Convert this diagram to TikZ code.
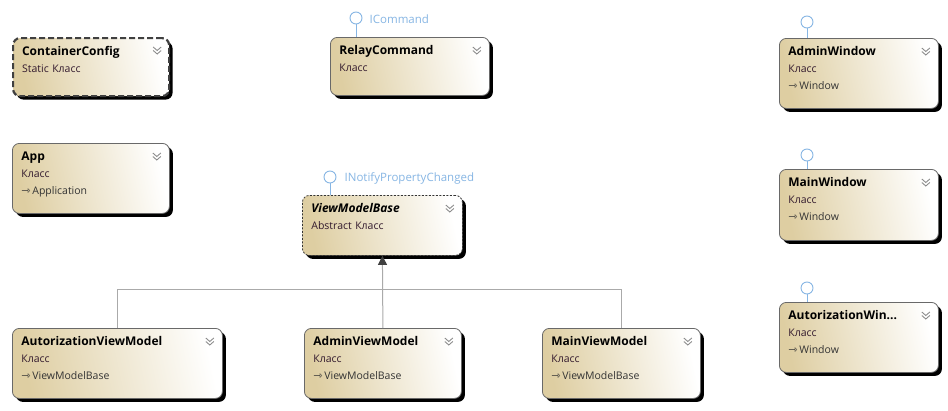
\documentclass[tikz,border=0pt]{standalone}
\usepackage{fontspec}
\setmainfont{Open Sans}
\newfontfamily\arrowfont{DejaVu Sans}
\usetikzlibrary{shadows,arrows.meta}
\definecolor{vstan}{RGB}{222,206,162}
\definecolor{vsedge}{RGB}{105,105,105}
\definecolor{vsblue}{RGB}{135,182,228}
\definecolor{vsline}{RGB}{170,170,170}
\definecolor{vssub}{RGB}{50,25,45}
\definecolor{vschev}{RGB}{140,140,140}
\newcommand\clsname[1]{{\fontsize{12}{17}\selectfont\bfseries #1}}
\newcommand\clskind[1]{{\color{vssub}#1}}
\newcommand\clsbase[1]{{\color{black!80}{\arrowfont\fontsize{11}{17}\selectfont ⇾}\,#1}}

\begin{document}
\begin{tikzpicture}[x=1pt,y=-1pt,
    cls/.style={draw=vsedge,line width=0.8pt,rounded corners=7pt,
        left color=vstan,right color=white,shading angle=102,
        drop shadow={shadow xshift=3.5pt,shadow yshift=-3.5pt,opacity=1,fill=black},
        anchor=north west,align=left,inner xsep=9pt,inner ysep=3pt,
        text width=141pt,text height=14pt,text depth=50pt,
        font=\fontsize{10.5}{17}\selectfont},
    short/.style={text depth=38pt},
    static/.style={dash pattern=on 6pt off 3pt,line width=2.2pt,draw=black!75},
    abstract/.style={dash pattern=on 2pt off 1.5pt,draw=black!80},
    chev/.style={draw=vschev,line width=0.9pt},
    lolli/.style={circle,draw=vsblue,line width=0.9pt,fill=white,minimum size=12pt,inner sep=0pt},
    lolline/.style={draw=vsblue,line width=1pt},
    iface/.style={anchor=west,inner sep=0pt,text=vsblue,font=\fontsize{11.5}{14}\selectfont},
    gen/.style={draw=vsline,line width=1pt}
]
    \useasboundingbox[fill=white] (0,0) rectangle (948,410);

    % interfaces
    \node[lolli] (icmd) at (356,18) {};
    \node[iface] (icmdtxt) at ([xshift=7pt,yshift=-1.5pt]icmd.east) {ICommand};
    \node[lolli] (inpc) at (330,177) {};
    \node[iface] (inpctxt) at ([xshift=8pt,yshift=-1.5pt]inpc.east) {INotifyPropertyChanged};
    \node[lolli] (awi) at (807,22) {};
    \node[lolli] (mwi) at (807,155) {};
    \node[lolli] (awwi) at (807,288) {};

    % classes
    \node[cls,short,static,text width=138pt] (cc) at (12,37)
        {\clsname{ContainerConfig}\\ \clskind{Static Класс}};
    \node[cls,short] (rc) at (330,37)
        {\clsname{RelayCommand}\\ \clskind{Класс}};
    \node[cls] (aw) at (779,38)
        {\clsname{AdminWindow}\\ \clskind{Класс}\\ \clsbase{Window}};
    \node[cls,text width=139pt] (app) at (12,143)
        {\clsname{App}\\ \clskind{Класс}\\ \clsbase{Application}};
    \node[cls,text depth=51pt] (mw) at (779,169)
        {\clsname{MainWindow}\\ \clskind{Класс}\\ \clsbase{Window}};
    \node[cls,short,abstract,text width=142pt,text depth=40pt] (vmb) at (302,195)
        {\clsname{\itshape ViewModelBase}\\ \clskind{Abstract Класс}};
    \node[cls] (aww) at (779,302)
        {\clsname{AutorizationWin...}\\ \clskind{Класс}\\ \clsbase{Window}};
    \node[cls,text width=192pt] (avm) at (12,328)
        {\clsname{AutorizationViewModel}\\ \clskind{Класс}\\ \clsbase{ViewModelBase}};
    \node[cls,text width=139pt] (advm) at (304,328)
        {\clsname{AdminViewModel}\\ \clskind{Класс}\\ \clsbase{ViewModelBase}};
    \node[cls,text width=140pt] (mvm) at (542,328)
        {\clsname{MainViewModel}\\ \clskind{Класс}\\ \clsbase{ViewModelBase}};

    % collapse marks
    \foreach \n in {cc,rc,aw,app,mw,vmb,aww,avm,advm,mvm}
        \draw[chev] ([xshift=-17pt,yshift=-10pt]\n.north east) -- ++(4,3.5) -- ++(4,-3.5)
            ++(-8,3.5) -- ++(4,3.5) -- ++(4,-3.5);

    % lollipop stems
    \draw[lolline] (icmd) -- (icmd |- rc.north);
    \draw[lolline] (inpc) -- (inpc |- vmb.north);
    \draw[lolline] (awi) -- (awi |- aw.north);
    \draw[lolline] (mwi) -- (mwi |- mw.north);
    \draw[lolline] (awwi) -- (awwi |- aww.north);

    % inheritance
    \coordinate (bus) at (382,289);
    \draw[gen] (avm.north) |- (bus);
    \draw[gen] (mvm.north) |- (bus);
    \draw[gen,-{Triangle[length=9pt,width=9pt,color=black!75]}] (advm.north) -- (vmb.south);
\end{tikzpicture}
\end{document}
